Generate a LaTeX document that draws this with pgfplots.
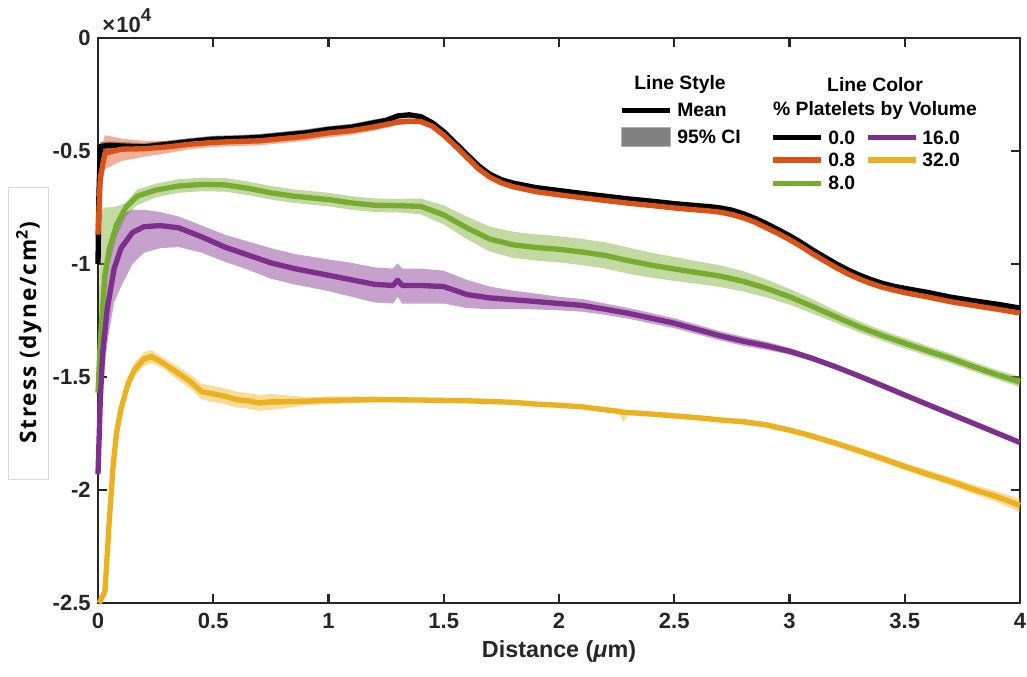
\documentclass[border=0pt]{standalone}
\usepackage{fontspec}
\setmainfont{Liberation Sans}
\newfontfamily\ylfont[LetterSpace=8]{Open Sans}
\usepackage{pgfplots}
\pgfplotsset{compat=1.18}
\usepackage{pgfplotstable}
\usepgfplotslibrary{fillbetween}
\definecolor{cOr}{rgb}{0.85,0.325,0.098}
\definecolor{cGr}{rgb}{0.466,0.674,0.188}
\definecolor{cPu}{rgb}{0.494,0.184,0.556}
\definecolor{cYe}{rgb}{0.929,0.694,0.125}
\definecolor{axc}{rgb}{0.15,0.15,0.15}

% 0.0 %
\pgfplotstableread{
x m lo hi
0 -1.00 -1.01 -0.99
0.004 -0.70 -0.72 -0.68
0.01 -0.48 -0.50 -0.46
0.05 -0.475 -0.495 -0.458
0.1 -0.478 -0.495 -0.460
0.2 -0.482 -0.498 -0.466
0.3 -0.470 -0.487 -0.455
0.4 -0.458 -0.475 -0.443
0.5 -0.448 -0.465 -0.433
0.6 -0.445 -0.462 -0.430
0.7 -0.440 -0.457 -0.425
0.8 -0.430 -0.447 -0.415
0.9 -0.420 -0.437 -0.405
1.0 -0.405 -0.422 -0.390
1.1 -0.395 -0.410 -0.380
1.2 -0.375 -0.390 -0.360
1.25 -0.365 -0.378 -0.352
1.3 -0.345 -0.355 -0.335
1.35 -0.340 -0.348 -0.332
1.4 -0.348 -0.355 -0.341
1.45 -0.375 -0.381 -0.369
1.5 -0.415 -0.420 -0.410
1.55 -0.465 -0.470 -0.460
1.6 -0.515 -0.520 -0.510
1.65 -0.565 -0.570 -0.560
1.7 -0.603 -0.608 -0.598
1.75 -0.627 -0.632 -0.622
1.8 -0.642 -0.647 -0.637
1.9 -0.662 -0.667 -0.657
2.0 -0.675 -0.680 -0.670
2.1 -0.688 -0.693 -0.683
2.2 -0.700 -0.705 -0.695
2.3 -0.712 -0.717 -0.707
2.4 -0.722 -0.727 -0.717
2.5 -0.733 -0.738 -0.728
2.6 -0.742 -0.747 -0.737
2.65 -0.746 -0.751 -0.741
2.7 -0.752 -0.757 -0.747
2.75 -0.762 -0.767 -0.757
2.8 -0.778 -0.783 -0.773
2.85 -0.798 -0.803 -0.793
2.9 -0.822 -0.827 -0.817
2.95 -0.848 -0.853 -0.843
3.0 -0.875 -0.880 -0.870
3.05 -0.905 -0.910 -0.900
3.1 -0.938 -0.943 -0.933
3.15 -0.968 -0.973 -0.963
3.2 -0.998 -1.003 -0.993
3.25 -1.025 -1.030 -1.020
3.3 -1.048 -1.053 -1.043
3.35 -1.068 -1.073 -1.063
3.4 -1.085 -1.090 -1.080
3.45 -1.098 -1.103 -1.093
3.5 -1.108 -1.113 -1.103
3.6 -1.126 -1.131 -1.121
3.7 -1.147 -1.152 -1.142
3.8 -1.163 -1.168 -1.158
3.9 -1.178 -1.183 -1.173
4.0 -1.195 -1.200 -1.190
}\tblA

% 0.8 %
\pgfplotstableread{
x m lo hi
0 -0.87 -0.89 -0.85
0.01 -0.62 -0.70 -0.50
0.03 -0.51 -0.58 -0.43
0.1 -0.492 -0.545 -0.445
0.2 -0.490 -0.525 -0.455
0.3 -0.482 -0.510 -0.455
0.4 -0.470 -0.492 -0.448
0.5 -0.462 -0.482 -0.442
0.6 -0.458 -0.478 -0.438
0.7 -0.455 -0.475 -0.435
0.8 -0.445 -0.465 -0.425
0.9 -0.435 -0.455 -0.415
1.0 -0.420 -0.440 -0.400
1.1 -0.410 -0.428 -0.392
1.2 -0.393 -0.410 -0.376
1.3 -0.372 -0.386 -0.358
1.35 -0.368 -0.380 -0.356
1.4 -0.370 -0.380 -0.360
1.45 -0.390 -0.398 -0.382
1.5 -0.430 -0.437 -0.423
1.55 -0.478 -0.485 -0.471
1.6 -0.528 -0.535 -0.521
1.65 -0.578 -0.585 -0.571
1.7 -0.616 -0.623 -0.609
1.75 -0.641 -0.648 -0.634
1.8 -0.658 -0.665 -0.651
1.9 -0.680 -0.687 -0.673
2.0 -0.694 -0.701 -0.687
2.1 -0.707 -0.714 -0.700
2.2 -0.719 -0.726 -0.712
2.3 -0.731 -0.738 -0.724
2.4 -0.741 -0.748 -0.734
2.5 -0.752 -0.759 -0.745
2.6 -0.761 -0.768 -0.754
2.65 -0.765 -0.772 -0.758
2.7 -0.771 -0.778 -0.764
2.75 -0.781 -0.788 -0.774
2.8 -0.796 -0.803 -0.789
2.85 -0.815 -0.822 -0.808
2.9 -0.840 -0.847 -0.833
2.95 -0.865 -0.872 -0.858
3.0 -0.892 -0.899 -0.885
3.05 -0.922 -0.929 -0.915
3.1 -0.955 -0.962 -0.948
3.15 -0.985 -0.992 -0.978
3.2 -1.015 -1.022 -1.008
3.25 -1.042 -1.049 -1.035
3.3 -1.065 -1.072 -1.058
3.35 -1.085 -1.092 -1.078
3.4 -1.102 -1.109 -1.095
3.45 -1.115 -1.122 -1.108
3.5 -1.127 -1.134 -1.120
3.6 -1.146 -1.153 -1.139
3.7 -1.167 -1.174 -1.160
3.8 -1.184 -1.191 -1.177
3.9 -1.200 -1.207 -1.193
4.0 -1.217 -1.225 -1.209
}\tblB

% 8.0 %
\pgfplotstableread{
x m lo hi
0 -1.57 -1.60 -1.50
0.01 -1.34 -1.40 -0.76
0.03 -1.05 -1.12 -0.75
0.05 -0.93 -1.00 -0.75
0.08 -0.83 -0.88 -0.745
0.12 -0.75 -0.79 -0.73
0.17 -0.70 -0.74 -0.67
0.25 -0.673 -0.705 -0.645
0.35 -0.655 -0.685 -0.625
0.45 -0.648 -0.678 -0.618
0.55 -0.650 -0.680 -0.620
0.65 -0.665 -0.695 -0.635
0.75 -0.685 -0.715 -0.655
0.85 -0.700 -0.730 -0.670
1.0 -0.715 -0.745 -0.685
1.1 -0.730 -0.760 -0.700
1.2 -0.740 -0.770 -0.710
1.3 -0.742 -0.772 -0.712
1.4 -0.745 -0.780 -0.710
1.5 -0.783 -0.825 -0.741
1.6 -0.840 -0.890 -0.790
1.7 -0.890 -0.945 -0.835
1.8 -0.915 -0.973 -0.857
1.9 -0.927 -0.985 -0.869
2.0 -0.935 -0.993 -0.877
2.1 -0.947 -1.005 -0.889
2.2 -0.962 -1.020 -0.904
2.3 -0.985 -1.043 -0.927
2.4 -1.005 -1.060 -0.950
2.5 -1.022 -1.075 -0.969
2.6 -1.038 -1.088 -0.988
2.7 -1.054 -1.102 -1.006
2.8 -1.077 -1.122 -1.032
2.9 -1.108 -1.148 -1.068
3.0 -1.145 -1.180 -1.110
3.1 -1.188 -1.220 -1.156
3.2 -1.233 -1.260 -1.206
3.3 -1.277 -1.302 -1.252
3.4 -1.316 -1.339 -1.293
3.5 -1.351 -1.374 -1.328
3.6 -1.385 -1.407 -1.363
3.7 -1.418 -1.440 -1.396
3.8 -1.455 -1.476 -1.434
3.9 -1.490 -1.511 -1.469
4.0 -1.522 -1.545 -1.499
}\tblC

% 16.0 %
\pgfplotstableread{
x m lo hi
0 -1.93 -1.95 -1.90
0.01 -1.60 -1.75 -1.45
0.02 -1.40 -1.55 -1.10
0.04 -1.20 -1.35 -0.95
0.07 -1.02 -1.17 -0.82
0.1 -0.93 -1.10 -0.78
0.15 -0.86 -1.00 -0.76
0.2 -0.835 -0.95 -0.76
0.27 -0.830 -0.93 -0.77
0.35 -0.840 -0.925 -0.79
0.45 -0.880 -0.95 -0.83
0.55 -0.925 -0.99 -0.87
0.65 -0.960 -1.025 -0.900
0.75 -0.995 -1.065 -0.930
0.85 -1.020 -1.090 -0.955
1.0 -1.050 -1.120 -0.980
1.1 -1.070 -1.145 -0.995
1.2 -1.090 -1.170 -1.015
1.28 -1.095 -1.175 -1.020
1.30 -1.072 -1.145 -0.997
1.32 -1.095 -1.175 -1.020
1.4 -1.095 -1.175 -1.020
1.5 -1.100 -1.175 -1.030
1.6 -1.135 -1.195 -1.070
1.7 -1.150 -1.200 -1.100
1.8 -1.158 -1.198 -1.118
1.9 -1.166 -1.201 -1.131
2.0 -1.175 -1.205 -1.145
2.1 -1.183 -1.211 -1.155
2.2 -1.200 -1.225 -1.175
2.3 -1.218 -1.242 -1.194
2.4 -1.240 -1.263 -1.217
2.5 -1.262 -1.284 -1.240
2.6 -1.290 -1.311 -1.269
2.7 -1.318 -1.338 -1.298
2.8 -1.342 -1.362 -1.322
2.9 -1.362 -1.380 -1.344
3.0 -1.386 -1.401 -1.371
3.1 -1.418 -1.430 -1.406
3.2 -1.455 -1.465 -1.445
3.3 -1.495 -1.503 -1.487
3.4 -1.537 -1.544 -1.530
3.5 -1.580 -1.585 -1.575
3.6 -1.622 -1.626 -1.618
3.7 -1.664 -1.668 -1.660
3.8 -1.706 -1.710 -1.702
3.9 -1.748 -1.752 -1.744
4.0 -1.790 -1.794 -1.786
}\tblD

% 32.0 %
\pgfplotstableread{
x m lo hi
0.005 -2.50 -2.51 -2.49
0.03 -2.45 -2.47 -2.43
0.05 -2.12 -2.15 -2.09
0.065 -1.90 -1.93 -1.87
0.08 -1.75 -1.78 -1.72
0.1 -1.64 -1.67 -1.61
0.13 -1.53 -1.56 -1.50
0.16 -1.465 -1.495 -1.435
0.2 -1.420 -1.45 -1.39
0.23 -1.410 -1.44 -1.38
0.26 -1.425 -1.45 -1.40
0.3 -1.450 -1.475 -1.425
0.35 -1.485 -1.515 -1.455
0.4 -1.520 -1.55 -1.49
0.45 -1.565 -1.60 -1.53
0.5 -1.575 -1.61 -1.54
0.55 -1.585 -1.62 -1.55
0.6 -1.600 -1.635 -1.565
0.65 -1.605 -1.64 -1.57
0.7 -1.615 -1.65 -1.58
0.75 -1.610 -1.645 -1.575
0.8 -1.610 -1.64 -1.58
0.9 -1.607 -1.625 -1.589
1.0 -1.603 -1.62 -1.586
1.2 -1.600 -1.612 -1.588
1.4 -1.602 -1.612 -1.592
1.6 -1.605 -1.615 -1.595
1.8 -1.612 -1.622 -1.602
1.9 -1.620 -1.630 -1.610
2.0 -1.625 -1.635 -1.615
2.1 -1.632 -1.642 -1.622
2.2 -1.645 -1.655 -1.635
2.26 -1.652 -1.663 -1.641
2.28 -1.656 -1.700 -1.645
2.30 -1.657 -1.668 -1.646
2.4 -1.664 -1.675 -1.653
2.5 -1.672 -1.683 -1.661
2.6 -1.680 -1.691 -1.669
2.7 -1.690 -1.701 -1.679
2.8 -1.698 -1.709 -1.687
2.9 -1.712 -1.724 -1.700
3.0 -1.735 -1.747 -1.723
3.1 -1.762 -1.775 -1.749
3.2 -1.793 -1.806 -1.780
3.3 -1.826 -1.840 -1.812
3.4 -1.860 -1.875 -1.845
3.5 -1.896 -1.912 -1.880
3.6 -1.930 -1.947 -1.913
3.7 -1.962 -1.980 -1.944
3.8 -1.998 -2.018 -1.978
3.9 -2.030 -2.053 -2.007
4.0 -2.068 -2.098 -2.038
}\tblE

\newcommand{\series}[3]{%
 \addplot[draw=none, name path=#3u, forget plot] table[x=x,y=hi]{#1};
 \addplot[draw=none, name path=#3l, forget plot] table[x=x,y=lo]{#1};
 \addplot[fill=#2, fill opacity=0.45, draw=none, forget plot] fill between[of=#3u and #3l];
 \addplot[#2, line width=4pt, line join=round, forget plot] table[x=x,y=m]{#1};
}

\begin{document}
\begin{tikzpicture}
\begin{axis}[
  at={(0,0)}, anchor=south west,
  scale only axis, width=691.5pt, height=423.75pt,
  xmin=0, xmax=4, ymin=-2.5, ymax=0,
  clip=false,
  axis line style={axc, line width=1.8pt},
  tick style={axc, line width=1.6pt},
  major tick length=7pt,
  tick align=inside,
  xtick={0,0.5,1,1.5,2,2.5,3,3.5,4},
  xticklabels={0,0.5,1,1.5,2,2.5,3,3.5,4},
  ytick={-2.5,-2,-1.5,-1,-0.5,0},
  yticklabels={-2.5,-2,-1.5,-1,-0.5,0},
  ticklabel style={font=\fontsize{16.5}{18}\selectfont\bfseries, text=axc},
  xticklabel style={yshift=-4pt},
  yticklabel style={xshift=-2pt},
  xlabel={\fontsize{17.5}{19}\selectfont\bfseries Distance (\textit{μ}m)},
  xlabel style={yshift=-2pt, text=axc},
]
\series{\tblA}{black}{a}
\series{\tblB}{cOr}{b}
\series{\tblC}{cGr}{c}
\series{\tblD}{cPu}{d}
\series{\tblE}{cYe}{e}

% y label box
\node[rotate=90, draw=black!15, line width=0.6pt, minimum width=219pt, minimum height=30pt, font=\ylfont\fontsize{17}{19}\selectfont\bfseries]
  at (axis cs:-0.30,-1.305) {Stress (dyne/cm\textsuperscript{2})};
% exponent
\node[anchor=south west, inner sep=0pt, font=\fontsize{16.5}{18}\selectfont\bfseries, text=axc]
  at ([xshift=3pt,yshift=4pt]rel axis cs:0,1) {×\kern1pt 10\raisebox{0.5em}{\fontsize{14}{14}\selectfont 4}};

% legend
\begin{scope}[font=\fontsize{14.5}{16}\selectfont\bfseries]
\node at (axis cs:2.525,-0.208) {Line Style};
\draw[black, line width=3.8pt] (axis cs:2.273,-0.319) -- (axis cs:2.482,-0.319);
\node[anchor=west, inner sep=0pt] at (axis cs:2.512,-0.319) {Mean};
\filldraw[fill=gray, draw=gray!60, line width=0.8pt] (axis cs:2.273,-0.398) rectangle (axis cs:2.482,-0.482);
\node[anchor=west, inner sep=0pt] at (axis cs:2.512,-0.438) {95\% CI};
\node at (axis cs:3.371,-0.208) {Line Color};
\node at (axis cs:3.371,-0.319) {\% Platelets by Volume};
\draw[black, line width=3.8pt] (axis cs:2.928,-0.442) -- (axis cs:3.137,-0.442);
\node[anchor=west, inner sep=0pt] at (axis cs:3.167,-0.442) {0.0};
\draw[cOr, line width=3.8pt] (axis cs:2.928,-0.540) -- (axis cs:3.137,-0.540);
\node[anchor=west, inner sep=0pt] at (axis cs:3.167,-0.540) {0.8};
\draw[cGr, line width=3.8pt] (axis cs:2.928,-0.642) -- (axis cs:3.137,-0.642);
\node[anchor=west, inner sep=0pt] at (axis cs:3.167,-0.642) {8.0};
\draw[cPu, line width=3.8pt] (axis cs:3.341,-0.442) -- (axis cs:3.549,-0.442);
\node[anchor=west, inner sep=0pt] at (axis cs:3.575,-0.442) {16.0};
\draw[cYe, line width=3.8pt] (axis cs:3.341,-0.540) -- (axis cs:3.549,-0.540);
\node[anchor=west, inner sep=0pt] at (axis cs:3.575,-0.540) {32.0};
\end{scope}
\end{axis}
\pgfresetboundingbox
\path[use as bounding box] (-73.5pt,-55.5pt) rectangle (696.75pt,452.25pt);
\end{tikzpicture}
\end{document}
